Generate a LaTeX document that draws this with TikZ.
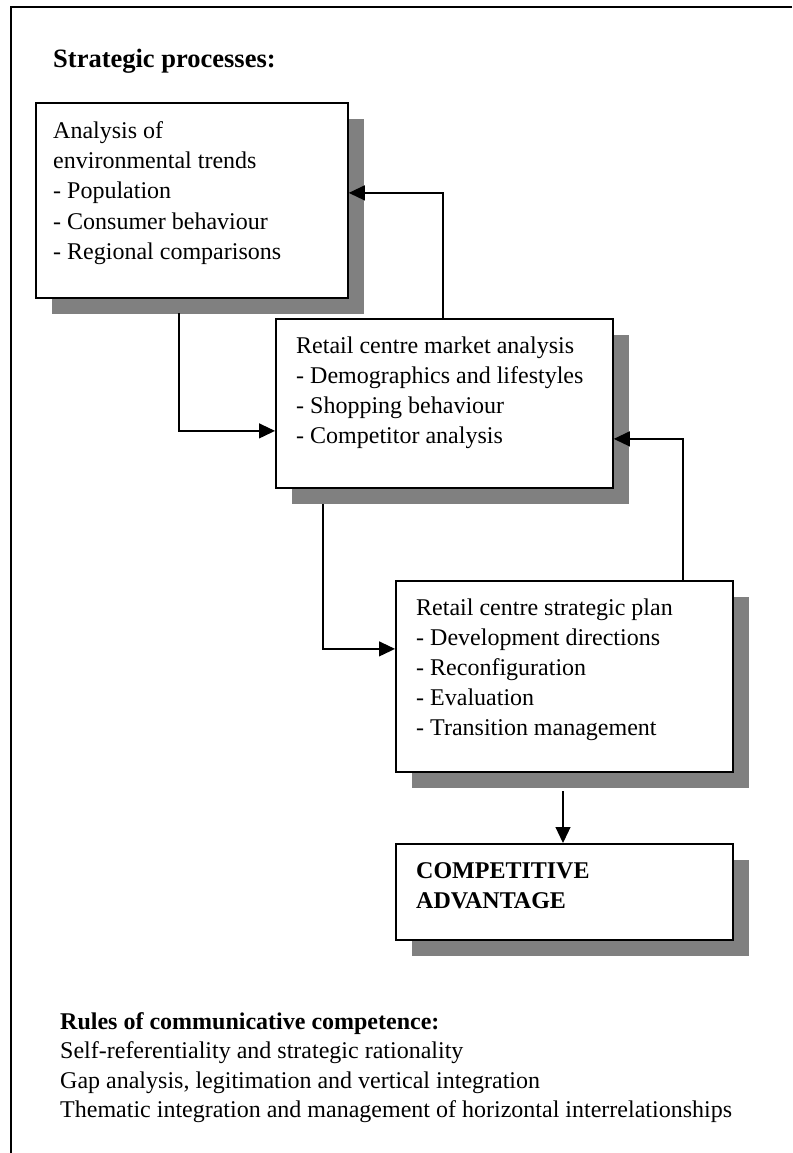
\documentclass[tikz,border=0pt]{standalone}
\usepackage{fontspec}
\setmainfont{Liberation Serif}
\usetikzlibrary{arrows.meta,shadows,calc}
\definecolor{shadowgray}{RGB}{128,128,128}
\begin{document}
\begin{tikzpicture}[x=1pt,y=-1pt,
  box/.style={draw, line width=1.8pt, fill=white,
    drop shadow={shadow xshift=16pt, shadow yshift=-16pt, fill=shadowgray, opacity=1},
    inner sep=0pt, anchor=north west},
  txt/.style={anchor=base west, inner sep=0pt, font=\fontsize{24}{30}\selectfont},
  link/.style={line width=1.2pt, -{Triangle[length=16pt,width=15pt]}},
  frame/.style={line width=2pt}]
\useasboundingbox (0,0) rectangle (792,1153);
% outer frame
\draw[frame] (792,7) -- (11,7) -- (11,1153);
% title
\node[txt, font=\fontsize{26.5}{30}\selectfont\bfseries] (title) at (53,68) {Strategic processes:};
% boxes
\node[box, minimum width=312pt, minimum height=195pt] (b1) at (35,102) {};
\node[box, minimum width=337pt, minimum height=169pt] (b2) at (275,318) {};
\node[box, minimum width=337pt, minimum height=191pt] (b3) at (395,580) {};
\node[box, minimum width=337pt, minimum height=96pt] (b4) at (395,843) {};
% box texts
\node[txt] (t1) at (53,139) {\parbox[t]{300pt}{Analysis of\\environmental trends\\- Population\\- Consumer behaviour\\- Regional comparisons}};
\node[txt] (t2) at (296,353) {\parbox[t]{320pt}{Retail centre market analysis\\- Demographics and lifestyles\\- Shopping behaviour\\- Competitor analysis}};
\node[txt] (t3) at (416,615) {\parbox[t]{320pt}{Retail centre strategic plan\\- Development directions\\- Reconfiguration\\- Evaluation\\- Transition management}};
\node[txt] (t4) at (416,878) {\parbox[t]{320pt}{\bfseries COMPETITIVE\\ADVANTAGE}};
% rules
\node[txt] (rules) at (60,1029) {\parbox[t]{720pt}{\fontsize{24}{29.5}\selectfont{\bfseries Rules of communicative competence:}\\Self-referentiality and strategic rationality\\Gap analysis, legitimation and vertical integration\\Thematic integration and management of horizontal interrelationships}};
% connectors
\coordinate (c1) at (179,313);
\coordinate (c2) at (443,318);
\coordinate (c3) at (683,580);
\coordinate (c4) at (323,504);
\coordinate (c5) at (563,791);
\draw[link] (c1) |- ([yshift=-27.5pt]b2.west);
\draw[link] (c2) |- ([yshift=7.5pt]b1.east);
\draw[link] (c3) |- ([yshift=-35.5pt]b2.east);
\draw[link] (c4) |- ([yshift=27.5pt]b3.west);
\draw[link] (c5) -- (c5 |- b4.north);
\end{tikzpicture}
\end{document}
